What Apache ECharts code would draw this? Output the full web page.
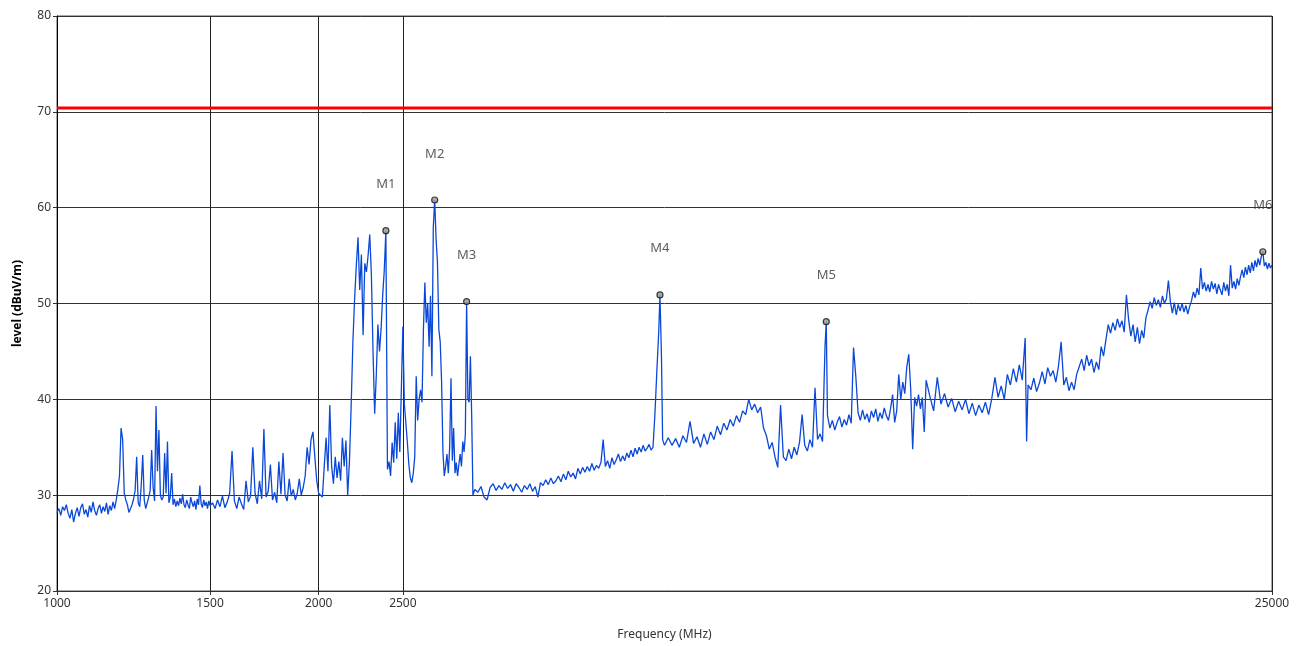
<!DOCTYPE html>
<html>
<head>
<meta charset="utf-8">
<script src="https://cdn.jsdelivr.net/npm/echarts@6/dist/echarts.min.js"></script>
<style>
html,body{margin:0;padding:0;background:#fff;}
#chart{width:1302px;height:646px;}
</style>
</head>
<body>
<div id="chart"></div>
<script>
// ---- Sweep data (frequency in MHz, level in dBuV/m) ----
const freqA = [
1000,1005,1010,1015,1020,1025,1030,1035,1040,1045,
1050,1055,1060,1065,1070,1075,1080,1085,1090,1095,
1100,1105,1110,1115,1120,1125,1130,1135,1140,1145,
1150,1155,1160,1165,1170,1175,1180,1185,1190,1195,
1200,1205,1210,1215,1220,1225,1230,1235,1240,1245,
1250,1255,1260,1265,1270,1275,1280,1285,1290,1295,
1300,1305,1310,1315,1320,1325,1330,1335,1340,1345,
1350,1355,1360,1365,1370,1375,1380,1385,1390,1395,
1400,1405,1410,1415,1420,1425,1430,1435,1440,1445,
1450,1455,1460,1465,1470,1475,1480,1485,1490,1495,
1500];
const levelA = [
28.2,28.6,27.9,28.8,28.4,29.0,28.1,27.6,28.5,27.2,
28.1,28.7,27.8,28.7,29.1,28.0,28.5,27.7,28.9,28.2,
29.3,28.4,27.9,28.6,29.0,28.1,28.8,28.3,29.2,28.0,
28.9,28.4,29.3,28.6,29.5,30.6,32.0,37.0,35.8,30.2,
29.5,29.0,28.2,28.0,29.0,29.6,30.5,34.0,29.2,28.8,
31.0,34.2,29.5,28.6,29.2,29.8,30.5,34.7,30.8,29.4,
39.3,32.5,36.8,30.0,29.5,29.8,34.4,30.2,35.6,29.2,
29.8,32.3,29.0,29.6,28.8,29.4,28.9,29.7,29.1,30.1,
29.0,28.7,29.5,29.0,28.6,29.8,29.2,28.8,29.4,28.5,
29.6,29.0,31.0,29.1,28.7,29.5,28.9,29.3,28.6,29.4,
28.9];

const freqB = [
1510,1520,1530,1540,1550,1560,1570,1580,1590,1600,
1610,1620,1630,1640,1650,1660,1670,1680,1690,1700,
1710,1720,1730,1740,1750,1760,1770,1780,1790,1800,
1810,1820,1830,1840,1850,1860,1870,1880,1890,1900,
1910,1920,1930,1940,1950,1960,1970,1980,1990,2000];
const levelB = [
29.2,28.6,29.5,28.8,29.9,28.7,29.3,30.2,34.6,29.4,
28.6,29.8,29.1,28.5,31.5,29.3,29.9,35.0,30.2,29.1,
31.5,29.6,36.9,29.8,30.4,33.2,29.5,30.3,29.2,33.5,
30.1,34.4,30.0,29.4,31.7,29.9,30.6,29.5,30.2,31.7,
30.0,30.8,32.0,35.0,33.2,35.8,36.6,34.0,31.5,30.2];

const freqC = [
2010,2020,2030,2040,2050,2060,2070,2080,2090,2100,
2110,2120,2130,2140,2150,2160,2170,2180,2190,2200,
2210,2220,2230,2240,2250,2260,2270,2280,2290,2300,
2310,2320,2330,2340,2350,2360,2370,2380,2390,2400,
2410,2420,2430,2440,2450,2460,2470,2480,2490,2500];
const levelC = [
30.4,29.8,33.0,36.0,32.5,39.4,33.0,31.2,34.0,31.8,
33.5,31.5,36.0,33.0,35.7,30.0,33.5,39.3,46.0,50.5,
54.0,56.9,51.4,55.1,46.7,54.2,53.3,55.0,57.2,53.0,
45.0,38.5,42.5,47.8,45.0,47.4,50.9,53.5,57.6,32.7,
33.5,32.0,35.5,33.4,37.6,33.8,38.6,34.5,41.0,47.6];

const freqD = [
2510,2520,2530,2540,2550,2560,2570,2580,2590,2600,
2610,2620,2630,2640,2650,2660,2670,2680,2690,2700,
2710,2720,2730,2740,2750,2760,2770,2780,2790,2800,
2810,2820,2830,2840,2850,2860,2870,2880,2890,2900,
2910,2920,2930,2940,2950,2960,2970,2980,2990,3000];
const levelD = [
39.5,37.5,35.5,33.2,31.8,31.3,32.3,34.0,42.4,37.8,
40.0,41.0,39.7,47.3,52.2,48.0,50.0,45.5,50.8,42.4,
58.0,60.8,56.7,54.3,47.3,46.0,41.9,34.5,32.0,33.0,
34.3,32.3,35.0,42.2,33.6,37.0,32.3,33.4,32.0,33.2,
34.3,33.0,35.6,34.5,36.3,50.2,40.0,39.7,44.5,38.3];

const freqE = [
3010,3025,3050,3075,3100,3125,3150,3175,3200,3225,
3250,3275,3300,3325,3350,3375,3400,3425,3450,3475,
3500,3525,3550,3575,3600,3625,3650,3675,3700,3725,
3750,3775,3800,3825,3850,3875,3900,3925,3950,3975,
4000,4025,4050,4075,4100,4125,4150,4175,4200,4225,
4250,4275,4300,4325,4350,4375,4400,4425,4450,4475,
4500,4525,4550,4575,4600,4625,4650,4675,4700,4725,
4750,4775,4800,4825,4850,4875,4900,4925,4940,4960,
4975,5000];
const levelE = [
30.0,30.6,30.3,30.9,29.8,29.5,30.8,31.2,30.5,31.0,
30.6,31.3,30.7,31.1,30.4,31.2,30.8,30.3,31.0,30.6,
31.2,30.4,30.9,29.8,31.3,31.0,31.6,31.1,31.8,31.2,
31.5,32.0,31.4,32.2,31.6,32.5,31.9,32.3,31.7,32.8,
32.2,32.9,32.4,33.0,32.5,33.3,32.6,33.1,32.8,33.4,
35.8,33.0,33.6,32.8,33.9,33.2,33.7,34.3,33.5,34.1,
33.6,34.4,33.9,34.7,34.0,34.9,34.3,35.0,34.5,35.2,
34.6,34.9,35.3,34.7,35.0,38.5,43.0,47.2,50.9,44.5,
35.8,35.2];

const freqF = [
5050,5100,5150,5200,5250,5300,5350,5400,5450,5500,
5550,5600,5650,5700,5750,5800,5850,5900,5950,6000,
6050,6100,6150,6200,6250,6300,6350,6400,6450,6500,
6550,6600,6650,6700,6750,6800,6850,6900,6950,7000,
7050,7100,7150,7200,7250,7300,7350,7400,7450,7500,
7550,7600,7650,7675,7700,7750,7800,7850,7900,7950,8000,
8050,8100,8150,8200,8250,8300,8350,8400,8450,8500,
8550,8600,8650,8700,8750,8800,8850,8900,8950,9000,
9050,9100,9150,9200,9250,9300,9350,9400,9450,9500,
9550,9600,9650,9700,9750,9800,9850,9900,9950,10000];
const levelF = [
36.0,35.2,35.9,35.0,36.2,35.5,37.7,35.4,36.1,35.0,
36.4,35.3,36.6,35.8,37.2,36.3,37.5,36.8,37.9,37.2,
38.3,37.6,38.8,38.4,40.0,38.9,39.5,38.6,39.2,37.0,
36.2,34.8,35.5,34.0,32.9,39.4,34.0,33.6,34.8,33.8,
35.0,34.2,35.5,38.4,35.2,34.6,35.8,35.0,41.2,35.8,
36.4,35.6,45.5,48.1,38.3,37.0,37.8,36.8,37.6,38.2,37.1,
37.9,37.3,38.4,37.5,45.4,42.4,38.6,37.8,38.9,37.9,
38.5,37.6,38.8,38.1,39.0,37.7,38.6,38.0,39.1,38.3,
37.8,39.0,40.5,37.6,38.8,42.6,40.0,41.8,40.6,43.4,
44.7,41.0,34.8,40.2,39.3,40.5,39.0,40.2,36.6,42.0];

const freqG = [
10100,10200,10300,10400,10500,10600,10700,10800,10900,11000,
11100,11200,11300,11400,11500,11600,11700,11800,11900,12000,
12100,12200,12300,12400,12500,12600,12700,12800,12900,13000,
13050,13100,13200,13300,13400,13500,13600,13700,13800,13900,
14000,14100,14200,14300,14400,14500,14600,14700,14800,14900,
15000,15100,15200,15300,15400,15500,15600,15700,15800,15900,
16000,16100,16200,16300,16400,16500,16600,16700,16800,16900,
17000,17100,17200,17300,17400,17500,17600,17700,17800,17900,
18000,18100,18200,18300,18400,18500,18600,18700,18800,18900,
19000,19100,19200,19300,19400,19500,19600,19700,19800,19900,
20000,20100,20200,20300,20400,20500,20600,20700,20800,20900,
21000,21100,21200,21300,21400,21500,21600,21700,21800,21900,
22000,22100,22200,22300,22400,22500,22600,22700,22800,22900,
23000,23100,23200,23300,23400,23500,23600,23700,23800,23900,
24000,24100,24200,24300,24400,24500,24600,24700,24800,24900,25000];
const levelG = [
40.3,38.8,42.3,39.5,40.6,39.2,40.1,38.7,39.8,38.9,
40.0,38.5,39.6,38.3,39.4,38.6,39.7,38.4,40.1,42.3,
40.2,41.4,40.0,42.6,41.5,43.2,41.8,43.6,42.0,46.4,
35.6,41.5,41.0,42.2,40.8,41.7,42.9,41.6,43.3,42.4,
43.0,41.8,43.5,46.0,41.5,42.3,40.9,41.8,41.0,42.6,
43.4,44.2,43.0,44.6,43.5,44.2,42.8,43.9,43.1,45.5,
44.5,46.2,47.8,46.9,48.0,47.2,48.4,47.5,48.2,47.0,
50.9,48.3,46.6,47.8,46.0,47.5,45.8,47.2,46.4,48.5,
49.3,50.2,49.5,50.6,49.8,50.4,49.6,50.8,50.0,50.5,
52.4,50.2,49.0,50.1,48.8,49.9,49.2,50.0,49.1,49.8,
48.9,49.7,50.3,51.2,50.6,51.6,50.9,53.7,51.5,52.2,
51.3,52.0,51.2,52.3,51.5,52.1,51.0,52.0,51.4,50.9,
52.2,51.3,52.0,50.8,54.0,51.6,52.3,51.5,52.6,51.9,
52.8,53.5,52.7,53.8,53.0,54.0,53.2,54.3,53.4,54.5,
53.8,54.7,54.0,54.9,55.4,53.9,54.3,53.6,54.2,53.7,54.0];

// ---- Markers ----
const markerNames = ['M1','M2','M3','M4','M5','M6'];
const markerFreq  = [2390, 2720, 2960, 4940, 7675, 24400];
const markerLevel = [57.6, 60.8, 50.2, 50.9, 48.1, 55.4];

// ---- Limit line ----
const limitLevel = 70.4;

// ---- Axes ----
const xTickValues = [1000, 1500, 2000, 2500, 25000];
const freqMin = 1000, freqMax = 25000;
const levelMin = 20, levelMax = 80, levelStep = 10;

// ---- Build series data ----
const freqMHz = [].concat(freqA, freqB, freqC, freqD, freqE, freqF, freqG);
const levelDbuV = [].concat(levelA, levelB, levelC, levelD, levelE, levelF, levelG);
const n = Math.min(freqMHz.length, levelDbuV.length);
const trace = [];
for (let i = 0; i < n; i++) trace.push([freqMHz[i], levelDbuV[i]]);
const markers = markerNames.map((m, i) => ({ value: [markerFreq[i], markerLevel[i]], name: m }));

const FONT = "'Noto Sans', 'DejaVu Sans', sans-serif";
const chart = echarts.init(document.getElementById('chart'), null, { renderer: 'canvas' });
chart.setOption({
  animation: false,
  backgroundColor: '#ffffff',
  textStyle: { fontFamily: FONT },
  grid: { left: 57, right: 30, top: 16, bottom: 54, show: true, borderColor: '#555', borderWidth: 1, backgroundColor: 'transparent' },
  xAxis: {
    type: 'log', logBase: 10, min: freqMin, max: freqMax,
    name: 'Frequency (MHz)', nameLocation: 'middle', nameGap: 38,
    nameTextStyle: { color: '#333', fontSize: 12, fontFamily: FONT },
    axisLine: { show: true, onZero: false, lineStyle: { color: '#333', width: 1 } },
    axisTick: { show: true, customValues: xTickValues, length: 4, lineStyle: { color: '#333' } },
    axisLabel: { customValues: xTickValues, formatter: v => String(Math.round(v)), color: '#333', fontSize: 12, margin: 7, fontFamily: FONT },
    splitLine: { show: true, lineStyle: { color: '#222', width: 1 } },
    minorTick: { show: false }, minorSplitLine: { show: false }
  },
  yAxis: {
    type: 'value', min: levelMin, max: levelMax, interval: levelStep,
    name: 'level (dBuV/m)', nameLocation: 'middle', nameGap: 33, nameRotate: 90,
    nameTextStyle: { color: '#000', fontSize: 12, fontWeight: 'bold', fontFamily: FONT },
    axisLine: { show: true, lineStyle: { color: '#000', width: 1 } },
    axisTick: { show: true, length: 4, lineStyle: { color: '#333' } },
    axisLabel: { color: '#333', fontSize: 12, margin: 6, fontFamily: FONT },
    splitLine: { show: true, lineStyle: { color: '#333', width: 1 } }
  },
  series: [
    {
      name: 'level', type: 'line', data: trace, showSymbol: false, symbol: 'none',
      lineStyle: { color: '#0b48d8', width: 1.3 }, itemStyle: { color: '#0b48d8' }, z: 3
    },
    {
      name: 'limit', type: 'line', data: [[freqMin, limitLevel], [freqMax, limitLevel]],
      showSymbol: false, symbol: 'none', lineStyle: { color: '#ff0000', width: 3 }, z: 4
    },
    {
      name: 'markers', type: 'scatter', data: markers, symbol: 'circle', symbolSize: 6,
      itemStyle: { color: '#9a9a9a', borderColor: '#111', borderWidth: 1.2 },
      label: { show: true, position: 'top', distance: 36, formatter: p => p.name, color: '#333', fontSize: 13, fontFamily: FONT },
      z: 5
    }
  ]
});
</script>
</body>
</html>
